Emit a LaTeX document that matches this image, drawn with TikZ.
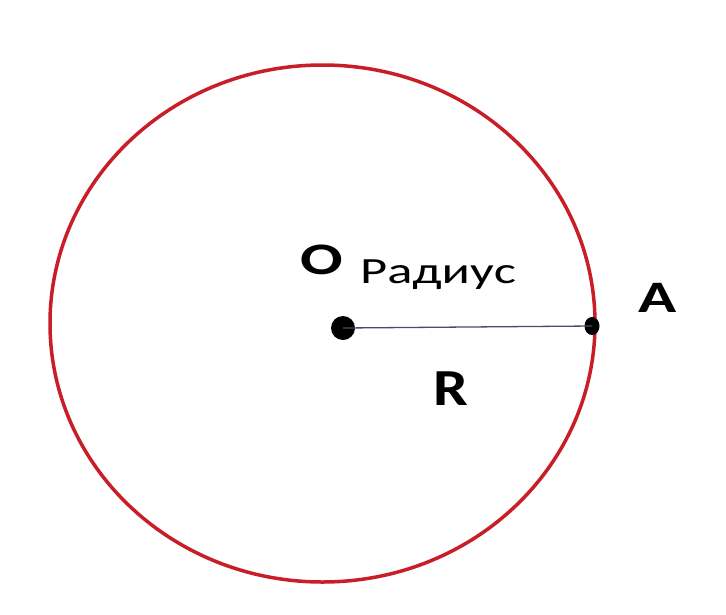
\documentclass[tikz,border=0pt]{standalone}
\usepackage{fontspec}
\usetikzlibrary{shapes.geometric}
\setmainfont{Carlito}
\definecolor{circred}{RGB}{200,30,40}
\definecolor{radline}{RGB}{70,80,100}
\tikzset{
  pointdot/.style={circle,fill=black,inner sep=0pt},
  boldlabel/.style={font=\fontsize{45}{45}\selectfont\bfseries,inner sep=0pt,xscale=1.4},
  wordlabel/.style={font=\fontsize{37}{37}\selectfont,inner sep=0pt,xscale=1.42}
}
\begin{document}
\begin{tikzpicture}[x=1pt,y=-1pt]
\useasboundingbox[fill=white] (0,0) rectangle (726,614);
\draw[circred,line width=3.5pt] (322.5,323.5) ellipse [x radius=272.5, y radius=258.5];
\node[pointdot,minimum size=24pt] (O) at (343,328) {};
\node[ellipse,fill=black,inner sep=0pt,minimum width=15pt,minimum height=18pt] (A) at (592,326) {};
\draw[radline,line width=1.3pt] (O.center) -- (A.center);
\node[boldlabel] (lo) at (322,260) {O};
\node[wordlabel] (lr) at (438,275) {Радиус};
\node[boldlabel] (la) at (658,298) {A};
\node[boldlabel,font=\fontsize{52}{52}\selectfont\bfseries,xscale=0.85] (lR) at (451,389) {R};
\end{tikzpicture}
\end{document}
